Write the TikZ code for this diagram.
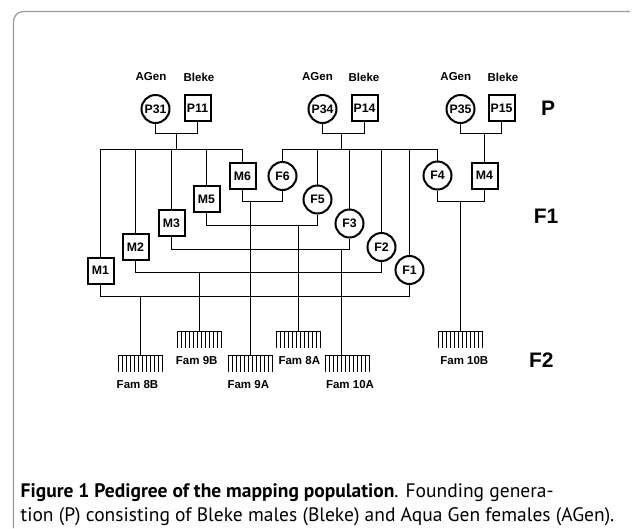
\documentclass[tikz,border=0pt]{standalone}
\usepackage{fontspec}
\setmainfont{Liberation Sans}
\newfontfamily\capfont{PT Sans}
\usetikzlibrary{calc}
\definecolor{framecol}{HTML}{9A9A9A}
\tikzset{
  lbl/.style={font=\fontsize{11.5}{13}\selectfont\bfseries},
  inlbl/.style={font=\fontsize{12.3}{14}\selectfont\bfseries},
  male/.style={draw, line width=2pt, minimum size=26pt, inner sep=0pt, inlbl},
  female/.style={draw, circle, line width=2pt, minimum size=28pt, inner sep=0pt, inlbl},
  gen/.style={font=\fontsize{21}{24}\selectfont\bfseries},
  conn/.style={line width=1.2pt},
  combnode/.style={minimum width=44pt, minimum height=16pt, inner sep=0pt},
  capstyle/.style={font=\capfont\fontsize{19.5}{22}\selectfont, inner sep=0pt, anchor=base west}
}
\begin{document}
\begin{tikzpicture}[x=1pt,y=-1pt]
\useasboundingbox (0,0) rectangle (632,528);
% frame
\draw[framecol, line width=1.2pt, rounded corners=10pt] (13.5,528) -- (13.5,11.5) -- (630,11.5);

% parents
\node[lbl] (l1a) at (151,77) {AGen};
\node[lbl] (l1b) at (199,77) {Bleke};
\node[lbl] (l2a) at (317.5,77) {AGen};
\node[lbl] (l2b) at (364,77) {Bleke};
\node[lbl] (l3a) at (455.8,77) {AGen};
\node[lbl] (l3b) at (503,77) {Bleke};

\node[female] (P31) at (155.5,109) {P31};
\node[male]   (P11) at (197.5,108) {P11};
\node[female] (P34) at (322.5,109) {P34};
\node[male]   (P14) at (364.5,108) {P14};
\node[female] (P35) at (460.5,109) {P35};
\node[male]   (P15) at (501.5,108) {P15};

% F1
\node[male] (M6) at (242.5,176) {M6};
\node[male] (M5) at (206.5,199) {M5};
\node[male] (M3) at (171.5,223) {M3};
\node[male] (M2) at (135.5,247) {M2};
\node[male] (M1) at (100.5,270.5) {M1};
\node[female] (F6) at (282.5,176) {F6};
\node[female] (F5) at (317.5,199.5) {F5};
\node[female] (F3) at (349.5,223.5) {F3};
\node[female] (F2) at (381.5,247) {F2};
\node[female] (F1) at (409.5,270) {F1};
\node[female] (F4) at (437.5,175.5) {F4};
\node[male] (M4) at (484.5,175.5) {M4};

% generation labels
\node[gen] (gP) at (548,108) {P};
\node[gen] (gF1) at (546,216) {F1};
\node[gen] (gF2) at (541.3,360) {F2};

% helper coordinates (levels)
\coordinate (pb) at (0,133.5);
\coordinate (sb) at (0,149.5);
\coordinate (st1) at (176.5,133.5);
\coordinate (st2) at (341.5,133.5);
\coordinate (st3) at (484.5,133.5);
\coordinate (y6) at (0,201.5);
\coordinate (y5) at (0,225.5);
\coordinate (y3) at (0,249.5);
\coordinate (y2) at (0,272.5);
\coordinate (y1) at (0,296.5);

% parent matings
\draw[conn] (P31.south) -- (P31.south |- pb) -- (P11.south |- pb) -- (P11.south);
\draw[conn] (P34.south) -- (P34.south |- pb) -- (P14.south |- pb) -- (P14.south);
\draw[conn] (P35.south) -- (P35.south |- pb) -- (P15.south |- pb) -- (P15.south);
\draw[conn] (st1) -- (st1 |- sb);
\draw[conn] (st2) -- (st2 |- sb);
\draw[conn] (st3) -- (M4.north);

% sibling bars
\draw[conn] (M1.north) -- (M1.north |- sb) -- (M6.north |- sb) -- (M6.north);
\foreach \n in {M2,M3,M5} \draw[conn] (\n.north) -- (\n.north |- sb);
\draw[conn] (F6.north) -- (F6.north |- sb) -- (F4.north |- sb) -- (F4.north);
\foreach \n in {F5,F3,F2,F1} \draw[conn] (\n.north) -- (\n.north |- sb);

% F1 matings
\draw[conn] (M6.south) -- (M6.south |- y6) -- (F6.south |- y6) -- (F6.south);
\draw[conn] (M5.south) -- (M5.south |- y5) -- (F5.south |- y5) -- (F5.south);
\draw[conn] (M3.south) -- (M3.south |- y3) -- (F3.south |- y3) -- (F3.south);
\draw[conn] (M2.south) -- (M2.south |- y2) -- (F2.south |- y2) -- (F2.south);
\draw[conn] (M1.south) -- (M1.south |- y1) -- (F1.south |- y1) -- (F1.south);
\draw[conn] (F4.south) -- (F4.south |- y6) -- (M4.south |- y6) -- (M4.south);

% F2 families (combs)
\node[combnode] (f8B)  at (140.5,363.5) {};
\node[combnode] (f9B)  at (199.5,339.5) {};
\node[combnode] (f9A)  at (250.5,363.5) {};
\node[combnode] (f8A)  at (298.5,339.5) {};
\node[combnode] (f10A) at (347.5,363.5) {};
\node[combnode] (f10B) at (460.5,339.5) {};
\foreach \n in {f8B,f9B,f9A,f8A,f10A,f10B}{
  \draw[conn] (\n.north west) -- (\n.north east);
  \foreach \i in {0,...,11}
    \draw[line width=1.1pt] ($(\n.north west)!\i/11!(\n.north east)$) -- ($(\n.south west)!\i/11!(\n.south east)$);
}
\draw[conn] (f8B.north) -- (f8B.north |- y1);
\draw[conn] (f9B.north) -- (f9B.north |- y2);
\draw[conn] (f9A.north) -- (f9A.north |- y6);
\draw[conn] (f8A.north) -- (f8A.north |- y5);
\draw[conn] ([xshift=-6pt]f10A.north) -- ([xshift=-6pt]f10A.north |- y3);
\draw[conn] (f10B.north) -- (f10B.north |- y6);

\node[lbl] (t8B)  at (137.5,385) {Fam 8B};
\node[lbl] (t9B)  at (196.7,361) {Fam 9B};
\node[lbl] (t9A)  at (248.3,385) {Fam 9A};
\node[lbl] (t8A)  at (299.3,361) {Fam 8A};
\node[lbl] (t10A) at (350,385) {Fam 10A};
\node[lbl] (t10B) at (464.3,361) {Fam 10B};

% caption
\node[capstyle] (cap1) at (20.5,497) {\textbf{Figure 1 Pedigree of the mapping population}. Founding genera-};
\node[capstyle] (cap2) at (20.5,521.5) {tion (P) consisting of Bleke males (Bleke) and Aqua Gen females (AGen).};
\end{tikzpicture}
\end{document}
